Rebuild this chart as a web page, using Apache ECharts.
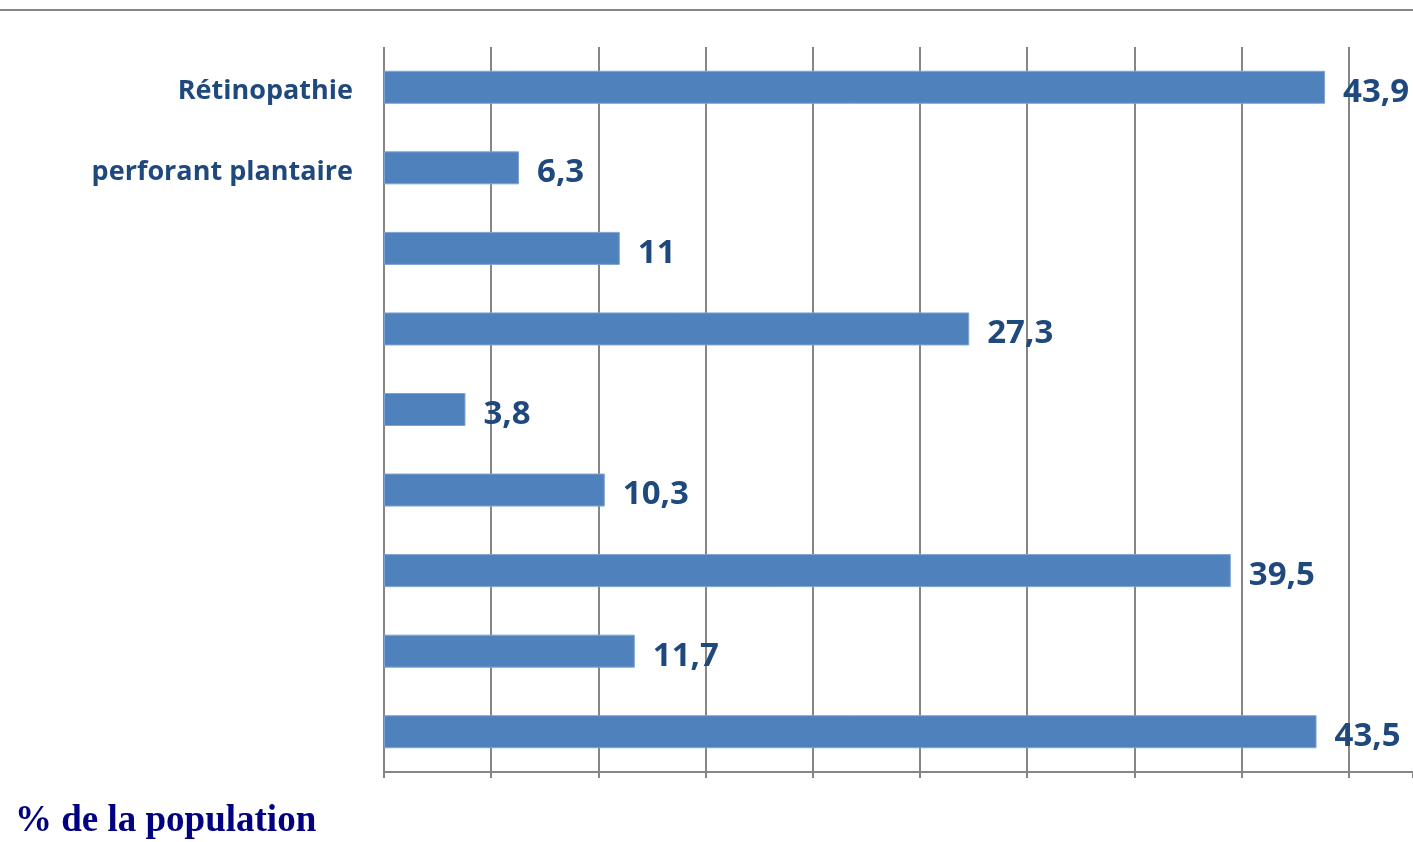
<!DOCTYPE html>
<html>
<head>
<meta charset="utf-8">
<script src="https://cdn.jsdelivr.net/npm/echarts@6/dist/echarts.min.js"></script>
<style>
  html, body { margin: 0; padding: 0; background: #fff; }
  #chart { width: 1413px; height: 842px; }
</style>
</head>
<body>
<div id="chart"></div>
<script>
// Complications, top to bottom (only the first two carry a visible name)
const categories = ['Rétinopathie', 'perforant plantaire', '', ' ', '  ', '   ', '    ', '     ', '      '];
// Share of the population, in percent
const values = [43.9, 6.3, 11, 27.3, 3.8, 10.3, 39.5, 11.7, 43.5];
const axisTitle = '% de la population';

const gridGray = '#868686';
const textBlue = '#1F497D';

const chart = echarts.init(document.getElementById('chart'), null, { renderer: 'canvas' });
chart.setOption({
  animation: false,
  backgroundColor: '#ffffff',
  grid: { left: 384, right: 0, top: 47, bottom: 70, containLabel: false },
  xAxis: {
    type: 'value',
    min: 0,
    max: 48,
    interval: 5,
    axisLine: { show: true, lineStyle: { color: gridGray, width: 2 } },
    axisTick: { show: true, length: 6, lineStyle: { color: gridGray, width: 2 } },
    axisLabel: { show: false },
    splitLine: { show: true, showMaxLine: false, lineStyle: { color: gridGray, width: 2 } }
  },
  yAxis: {
    type: 'category',
    inverse: true,
    data: categories,
    axisLine: { show: false },
    axisTick: { show: false },
    axisLabel: {
      margin: 31,
      color: textBlue,
      fontFamily: 'Open Sans',
      fontWeight: 'bold',
      fontSize: 27,
      verticalAlign: 'top',
      lineHeight: 8
    }
  },
  series: [{
    type: 'bar',
    data: values,
    barWidth: 33,
    itemStyle: { color: '#4F81BD', borderColor: '#7FA3D0', borderWidth: 1 },
    label: {
      show: true,
      position: 'right',
      distance: 18,
      offset: [0, 5],
      color: textBlue,
      fontFamily: 'Open Sans',
      fontWeight: 'bold',
      fontSize: 33,
      formatter: p => String(p.value).replace('.', ',')
    }
  }],
  graphic: [
    {
      type: 'line',
      shape: { x1: 0, y1: 10, x2: 1413, y2: 10 },
      style: { stroke: gridGray, lineWidth: 2 }
    },
    {
      type: 'text',
      left: 15,
      top: 803,
      style: {
        text: axisTitle,
        fill: '#000080',
        font: 'bold 37px "Liberation Serif", "DejaVu Serif", serif'
      }
    }
  ]
});
</script>
</body>
</html>
